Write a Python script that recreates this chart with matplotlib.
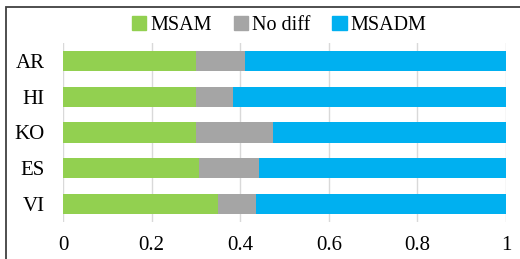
import numpy as np
import matplotlib.pyplot as plt
from matplotlib.patches import Rectangle, Patch

langs = ['AR', 'HI', 'KO', 'ES', 'VI']
msam = np.array([0.30, 0.30, 0.30, 0.307, 0.35])
nodiff = np.array([0.11, 0.084, 0.174, 0.135, 0.085])
msadm = 1 - msam - nodiff

c_green = '#92D050'
c_gray = '#A5A5A5'
c_blue = '#00B0F0'

plt.rcParams['font.family'] = ['Liberation Serif', 'DejaVu Serif']

fig = plt.figure(figsize=(5.2, 2.59), dpi=100)
ax = fig.add_axes([0.1212, 0.143, 0.852, 0.691])

y = np.arange(len(langs))
h = 0.56
ax.barh(y, msam, height=h, color=c_green, zorder=2)
ax.barh(y, nodiff, left=msam, height=h, color=c_gray, zorder=2)
ax.barh(y, msadm, left=msam + nodiff, height=h, color=c_blue, zorder=2)

ax.set_ylim(len(langs) - 0.5, -0.5)
ax.set_xlim(0, 1)
ax.set_yticks(y)
ax.set_yticklabels(langs, fontsize=15)
ax.set_xticks([0, 0.2, 0.4, 0.6, 0.8, 1])
ax.set_xticklabels(['0', '0.2', '0.4', '0.6', '0.8', '1'], fontsize=15)
ax.tick_params(axis='y', length=0, pad=13)
ax.tick_params(axis='x', length=0, pad=10)
ax.grid(axis='x', color='#D9D9D9', linewidth=1, zorder=0)
for s in ax.spines.values():
    s.set_visible(False)

handles = [Patch(color=c_green), Patch(color=c_gray), Patch(color=c_blue)]
fig.legend(handles, ['MSAM', 'No diff', 'MSADM'], loc='center',
           bbox_to_anchor=(0.537, 0.9), ncol=3, frameon=False, fontsize=14.5,
           handlelength=0.7, handleheight=0.7, handletextpad=0.2,
           columnspacing=1.1, borderpad=0)

# outer chart frame, cropped by the image edges
fig.patches.append(Rectangle((5.5 / 520, -0.1), 1.2, 1 - 7.5 / 259 + 0.1,
                             transform=fig.transFigure, fill=False,
                             edgecolor='#404040', linewidth=1.3))

fig.savefig('out.png', dpi=100)
